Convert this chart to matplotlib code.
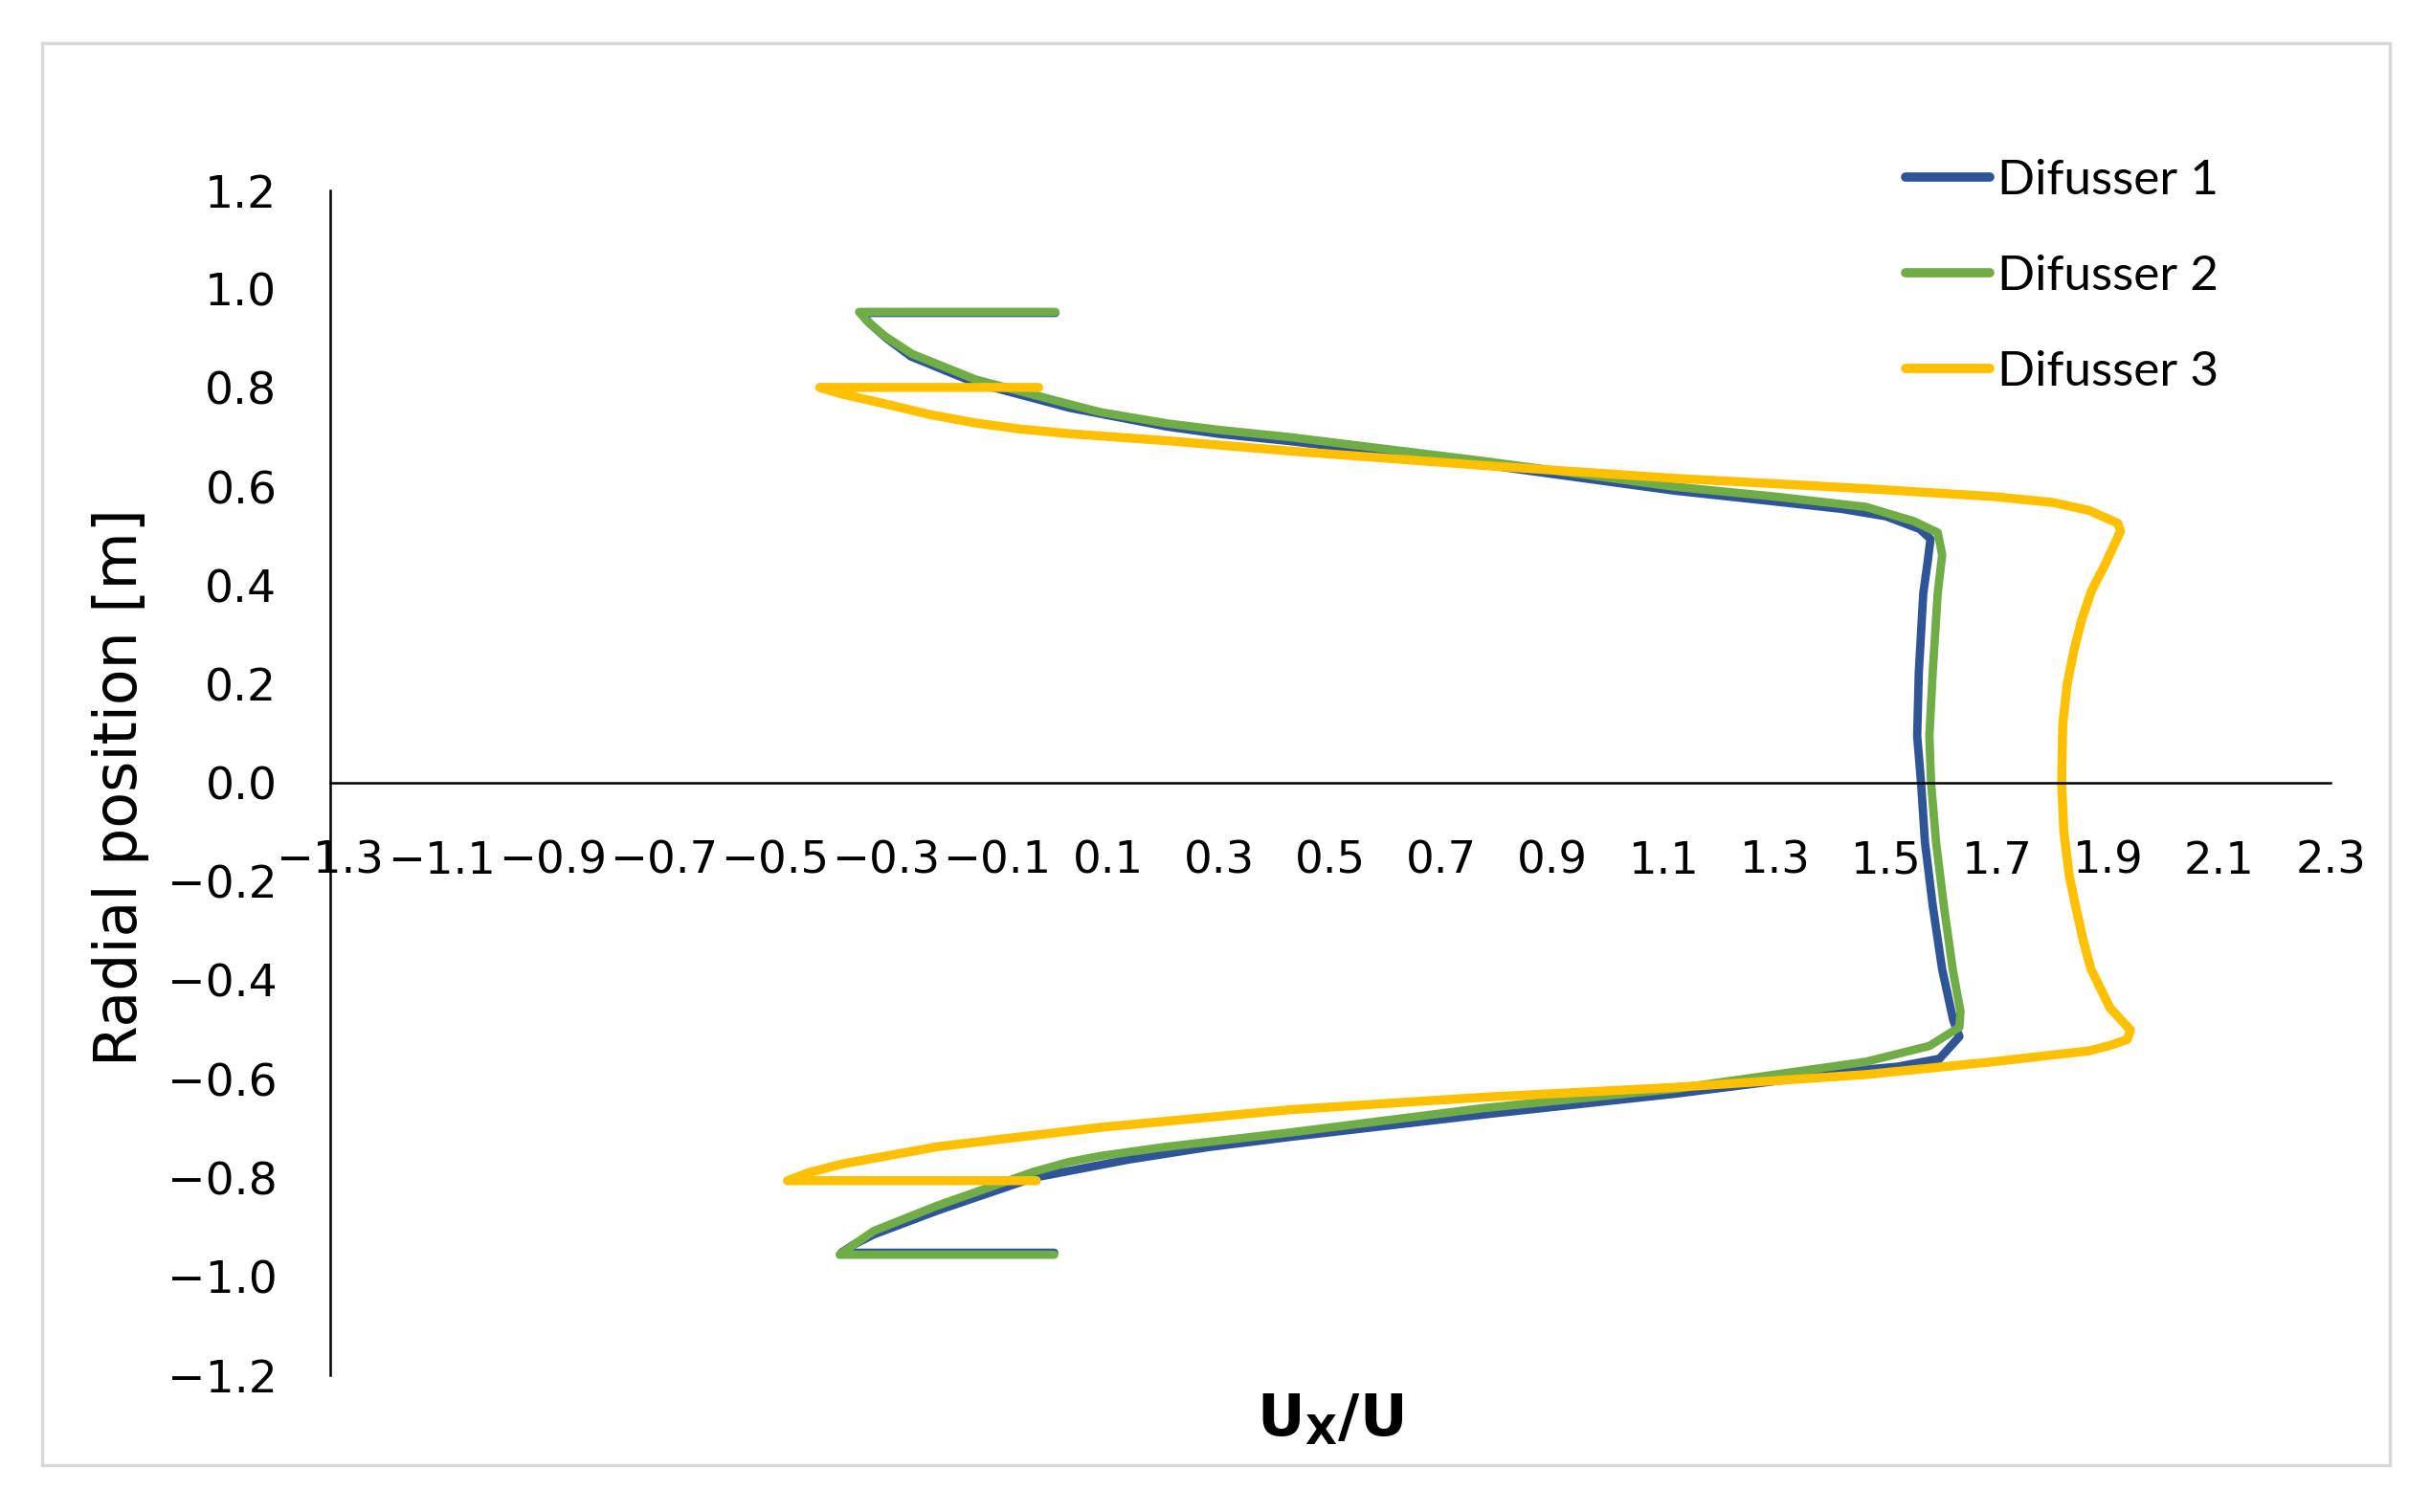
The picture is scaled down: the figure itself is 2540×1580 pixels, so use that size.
import matplotlib
matplotlib.use("Agg")
import matplotlib.pyplot as plt
from matplotlib.patches import Rectangle

# radial velocity profiles
d1_ux = [0.005, -0.345, -0.330, -0.300, -0.255, -0.140, 0.030, 0.205, 0.300, 0.430, 0.775, 1.119,
         1.300, 1.420, 1.500, 1.561, 1.580, 1.575, 1.567, 1.559, 1.556, 1.563, 1.570, 1.584, 1.601,
         1.621, 1.632, 1.596, 1.521, 1.464, 1.119, 0.775, 0.430, 0.280, 0.138, -0.034, -0.206,
         -0.322, -0.360, -0.380, 0.003]
d1_r = [0.952, 0.952, 0.932, 0.902, 0.864, 0.811, 0.760, 0.722, 0.707, 0.692, 0.645, 0.592,
        0.570, 0.555, 0.540, 0.514, 0.494, 0.449, 0.384, 0.225, 0.095, 0.0, -0.120, -0.249, -0.378,
        -0.481, -0.514, -0.559, -0.575, -0.581, -0.630, -0.672, -0.717, -0.738, -0.763, -0.800, -0.866,
        -0.915, -0.937, -0.952, -0.952]

d2_ux = [0.005, -0.348, -0.333, -0.303, -0.253, -0.138, 0.034, 0.086, 0.207, 0.300, 0.430, 0.775,
         1.119, 1.300, 1.464, 1.550, 1.593, 1.601, 1.593, 1.584, 1.578, 1.581, 1.590, 1.604, 1.620,
         1.634, 1.632, 1.578, 1.464, 1.119, 0.775, 0.430, 0.200, 0.086, 0.030, -0.034, -0.206,
         -0.322, -0.363, -0.383, 0.003]
d2_r = [0.954, 0.954, 0.935, 0.906, 0.869, 0.817, 0.766, 0.751, 0.728, 0.715, 0.700, 0.652,
        0.600, 0.580, 0.559, 0.530, 0.507, 0.462, 0.384, 0.225, 0.095, 0.0, -0.120, -0.249, -0.378,
        -0.464, -0.495, -0.533, -0.565, -0.620, -0.659, -0.708, -0.738, -0.756, -0.768, -0.788, -0.856,
        -0.908, -0.940, -0.956, -0.956]

d3_ux = [-0.025, -0.419, -0.380, -0.310, -0.220, -0.138, -0.060, 0.034, 0.207, 0.430, 0.775, 1.119,
         1.464, 1.693, 1.800, 1.865, 1.917, 1.922, 1.894, 1.870, 1.852, 1.838, 1.826, 1.818, 1.816,
         1.820, 1.830, 1.841, 1.855, 1.869, 1.903, 1.940, 1.934, 1.900, 1.865, 1.693, 1.464, 1.119,
         0.775, 0.430, 0.086, -0.206, -0.378, -0.440, -0.477, -0.029]
d3_r = [0.801, 0.801, 0.788, 0.770, 0.746, 0.729, 0.717, 0.707, 0.693, 0.672, 0.643, 0.617,
        0.596, 0.580, 0.568, 0.552, 0.526, 0.510, 0.442, 0.390, 0.330, 0.268, 0.200, 0.120, 0.0,
        -0.100, -0.190, -0.249, -0.320, -0.378, -0.456, -0.501, -0.520, -0.533, -0.543, -0.565, -0.591, -0.617,
        -0.637, -0.662, -0.698, -0.737, -0.772, -0.790, -0.806, -0.806]

labels = ["Difusser 1", "Difusser 2", "Difusser 3"]
colors = ["#2F5597", "#70AD47", "#FFC000"]

xticks = [-1.3, -1.1, -0.9, -0.7, -0.5, -0.3, -0.1, 0.1, 0.3, 0.5, 0.7, 0.9, 1.1, 1.3, 1.5, 1.7, 1.9, 2.1, 2.3]
yticks = [-1.2, -1.0, -0.8, -0.6, -0.4, -0.2, 0.0, 0.2, 0.4, 0.6, 0.8, 1.0, 1.2]

fig = plt.figure(figsize=(25.4, 15.8), dpi=100)
ax = fig.add_axes([0.1358, 0.0905, 0.8229, 0.7835])

series = [(d1_ux, d1_r), (d2_ux, d2_r), (d3_ux, d3_r)]
for i in range(0, len(series)):
    lw = 6.3 if i < 2 else 6.8
    ax.plot(series[i][0], series[i][1], color=colors[i], lw=lw, label=labels[i],
            solid_joinstyle="round", solid_capstyle="round")

ax.set_xlim(-1.3, 2.3)
ax.set_ylim(-1.2, 1.2)
ax.set_xticks(xticks)
ax.set_yticks(yticks)
ax.set_xticklabels([("%.1f" % t).replace("-", "\u2212") for t in xticks])
ax.set_yticklabels([("%.1f" % t).replace("-", "\u2212") for t in yticks])
ax.spines["top"].set_visible(False)
ax.spines["right"].set_visible(False)
ax.spines["bottom"].set_position(("data", 0))
ax.spines["left"].set_linewidth(1.8)
ax.spines["bottom"].set_linewidth(1.8)
ax.tick_params(axis="x", length=0, pad=43, labelsize=33.5)
ax.tick_params(axis="y", length=0, pad=40, labelsize=34)
ax.patch.set_visible(False)

fig.text(126 / 2540, 1 - 823 / 1580, "Radial position [m]", rotation=90,
         ha="center", va="center", fontsize=44.5)
fig.text(1390 / 2540, 1 - 1484 / 1580, r"$\mathbf{U_X/U}$", ha="center", va="center", fontsize=44)

leg = ax.legend(loc="upper left", bbox_to_anchor=(1991 / 2540, 1 - 166 / 1580),
                bbox_transform=fig.transFigure, frameon=False, borderpad=0, borderaxespad=0,
                handlelength=1.72, handletextpad=0.14, labelspacing=1.05,
                prop={"family": "Lato", "size": 37})
for line in leg.get_lines():
    line.set_linewidth(7)

fig.patches.append(Rectangle((44 / 2540, 1 - 1531 / 1580), (2497 - 44) / 2540, (1531 - 45) / 1580,
                             transform=fig.transFigure, fill=False, edgecolor="#D9D9D9", lw=2.5))

plt.savefig("out.png", dpi=100)
